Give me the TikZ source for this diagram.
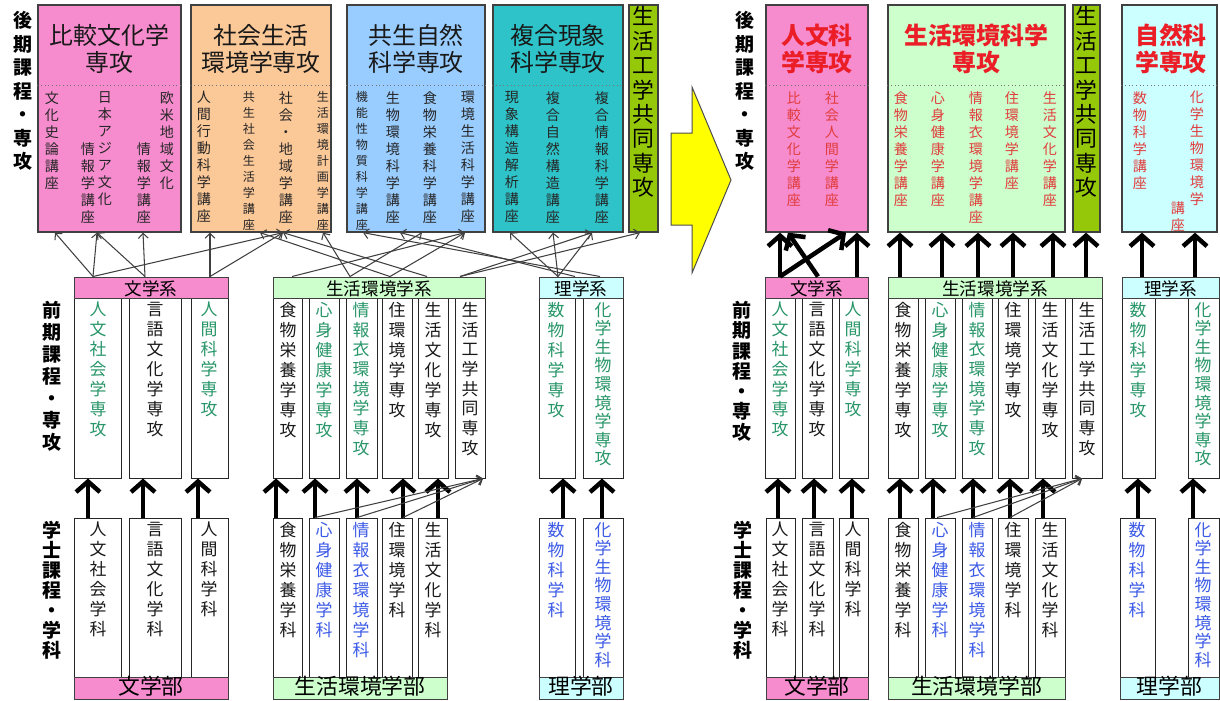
\documentclass[tikz,border=0pt]{standalone}
\usepackage{fontspec}
\setmainfont{Noto Sans CJK JP}
\usetikzlibrary{arrows.meta,fit}
\ExplSyntaxOn
\NewDocumentCommand\vt{O{12pt}m}{\vbox{\baselineskip=#1\relax\lineskiplimit=-100pt\relax\tl_map_inline:nn{#2}{\hbox{##1}}}}
\ExplSyntaxOff
\definecolor{pinkc}{RGB}{246,140,206}
\definecolor{orangec}{RGB}{251,200,152}
\definecolor{bluec}{RGB}{153,204,255}
\definecolor{tealc}{RGB}{45,195,200}
\definecolor{limec}{RGB}{150,200,10}
\definecolor{lgreenc}{RGB}{204,255,204}
\definecolor{lcyanc}{RGB}{204,255,255}
\definecolor{greent}{RGB}{40,150,105}
\definecolor{bluet}{RGB}{60,90,230}
\definecolor{redt}{RGB}{235,30,40}
\definecolor{lectred}{RGB}{225,60,60}
\definecolor{yelc}{RGB}{255,255,0}
\newcommand\cbox[5]{\node[colbox, fit={(#2,#3) (#4,#5)}] (#1) {};}
\newcommand\vtx[6]{\node[#2, anchor=north] (#1) at (#3,#4) {\vt[#5]{#6}};}
\tikzset{
  topbox/.style={draw=black!75, line width=0.9pt, inner sep=0pt},
  colbox/.style={draw=black!85, line width=0.7pt, fill=white, inner sep=0pt},
  hdrbox/.style={draw=black!75, line width=0.7pt, inner sep=0pt},
  hdrt/.style={inner sep=0pt, text height=0.8em, text depth=0.1em, yshift=-2pt, font=\fontsize{12.5}{14}\selectfont},
  ftrt/.style={inner sep=0pt, text height=0.8em, text depth=0.1em, yshift=-1.2pt, font=\fontsize{15.5}{17}\selectfont},
  dotsep/.style={draw=black!55, line width=0.6pt, dotted},
  ttl/.style={align=center, inner sep=0pt, font=\fontsize{17}{19.2}\selectfont, text=black!90},
  ttlr/.style={align=center, inner sep=0pt, font=\fontsize{17}{19.2}\selectfont\bfseries, text=redt},
  lect/.style={inner sep=0pt, font=\fontsize{10}{12}\selectfont, text=black!85},
  lectsm/.style={inner sep=0pt, font=\fontsize{8.6}{10}\selectfont, text=black!85},
  lectr/.style={inner sep=0pt, font=\fontsize{10}{12}\selectfont, text=lectred},
  bigv/.style={inner sep=0pt, font=\fontsize{15.5}{17}\selectfont, text=black},
  colt/.style={inner sep=0pt, font=\fontsize{12}{14}\selectfont, text=black!90},
  side/.style={inner sep=0pt, font=\fontsize{13.5}{16}\selectfont\bfseries, text=black},
  thinar/.style={draw=black!75, line width=0.75pt, -{Straight Barb[length=3.5pt,width=7pt]}},
  thickar/.style={draw=black, line width=3.2pt, -{Straight Barb[length=7.5pt,width=17pt]}},
}
\begin{document}
\begin{tikzpicture}[x=0.025cm,y=-0.025cm]
\useasboundingbox (0,0) rectangle (1220,700);
% ===== top boxes left =====
\node[topbox, fill=pinkc, fit={(38,5) (181,232)}] (T1) {};
\node[topbox, fill=orangec, fit={(191,5) (331,232)}] (T2) {};
\node[topbox, fill=bluec, fit={(347,5) (485,232)}] (T3) {};
\node[topbox, fill=tealc, fit={(493,5) (623,232)}] (T4) {};
\node[topbox, fill=limec, fit={(629,5) (658,232)}] (T5) {};
% ===== top boxes right =====
\node[topbox, fill=pinkc, fit={(766,5) (868,232)}] (R1) {};
\node[topbox, fill=lgreenc, fit={(888,5) (1065,232)}] (R2) {};
\node[topbox, fill=limec, fit={(1073,5) (1100,232)}] (R3) {};
\node[topbox, fill=lcyanc, fit={(1122,5) (1217,232)}] (R4) {};
\foreach \n in {T1,T2,T3,T4,R1,R2,R4} \draw[dotsep] (\n.west |- 0,85) -- (\n.east |- 0,85);
% titles
\node[ttl] (T1t) at (109.5,48.5) {比較文化学\\専攻};
\node[ttl] (T2t) at (261,48.5) {社会生活\\環境学専攻};
\node[ttl] (T3t) at (416,48.5) {共生自然\\科学専攻};
\node[ttl] (T4t) at (558,48.5) {複合現象\\科学専攻};
\vtx{T5t}{bigv}{643.5}{6}{17.4pt}{生活工学共同専攻}
\node[ttlr] (R1t) at (817,48.5) {人文科\\学専攻};
\node[ttlr] (R2t) at (976.5,48.5) {生活環境科学\\専攻};
\node[ttlr] (R4t) at (1171,48.5) {自然科\\学専攻};
\vtx{R3t}{bigv}{1086.5}{6}{17.4pt}{生活工学共同専攻}
% lectures left
\vtx{l11}{lect}{52}{91}{12.1pt}{文化史論講座}
\vtx{l12}{lect}{88}{142}{12.1pt}{情報学講座}
\vtx{l13}{lect}{105}{91}{12.1pt}{日本アジア文化}
\vtx{l14}{lect}{144}{142}{12.1pt}{情報学講座}
\vtx{l15}{lect}{167}{91}{12.1pt}{欧米地域文化}
\vtx{l21}{lect}{204}{91}{12.1pt}{人間行動科学講座}
\vtx{l22}{lectsm}{249}{91}{11.4pt}{共生社会生活学講座}
\vtx{l23}{lect}{286}{91}{12.1pt}{社会・地域学講座}
\vtx{l24}{lectsm}{323}{91}{11.4pt}{生活環境計画学講座}
\vtx{l31}{lectsm}{362}{91}{11.4pt}{機能性物質科学講座}
\vtx{l32}{lect}{393}{91}{12.1pt}{生物環境科学講座}
\vtx{l33}{lect}{430}{91}{12.1pt}{食物栄養科学講座}
\vtx{l34}{lect}{468}{91}{12.1pt}{環境生活科学講座}
\vtx{l41}{lect}{512}{91}{12.1pt}{現象構造解析講座}
\vtx{l42}{lect}{553}{91}{12.1pt}{複合自然構造講座}
\vtx{l43}{lect}{602}{91}{12.1pt}{複合情報科学講座}
% lectures right
\vtx{r11}{lectr}{794}{91}{12.1pt}{比較文化学講座}
\vtx{r12}{lectr}{832}{91}{12.1pt}{社会人間学講座}
\vtx{r21}{lectr}{901}{91}{12.1pt}{食物栄養学講座}
\vtx{r22}{lectr}{938}{91}{12.1pt}{心身健康学講座}
\vtx{r23}{lectr}{976}{91}{12.1pt}{情報衣環境学講座}
\vtx{r24}{lectr}{1012}{91}{12.1pt}{住環境学講座}
\vtx{r25}{lectr}{1050}{91}{12.1pt}{生活文化学講座}
\vtx{r41}{lectr}{1140}{91}{12.1pt}{数物科学講座}
\vtx{r42}{lectr}{1197}{91}{12.1pt}{化学生物環境学}
\vtx{r43}{lectr}{1178}{201}{12.1pt}{講座}
% side labels
\vtx{s1}{side}{23}{11}{16.7pt}{後期課程・専攻}
\vtx{s2}{side}{52}{301}{15.6pt}{前期課程・専攻}
\vtx{s3}{side}{52}{521}{14.2pt}{学士課程・学科}
\vtx{s4}{side}{745}{11}{16.7pt}{後期課程・専攻}
\vtx{s5}{side}{742}{301}{14.4pt}{前期課程・専攻}
\vtx{s6}{side}{743}{521}{14.2pt}{学士課程・学科}
% ===== big yellow arrow =====
\draw[fill=yelc, draw=black!70, line width=0.7pt] (671,133) -- (692,133) -- (692,87) -- (731,180) -- (692,273) -- (692,225) -- (671,225) -- cycle;
% ===== middle columns left =====
\cbox{LMa1}{74}{298}{121}{478}
\cbox{LMa2}{129}{298}{181}{478}
\cbox{LMa3}{191}{298}{228}{478}
\cbox{LMb1}{273}{298}{302}{478}
\cbox{LMb2}{309}{298}{339}{478}
\cbox{LMb3}{346}{298}{377}{478}
\cbox{LMb4}{382}{298}{412}{478}
\cbox{LMb5}{418}{298}{448}{478}
\cbox{LMb6}{455}{298}{485}{478}
\cbox{LMc1}{539}{298}{575}{478}
\cbox{LMc2}{583}{298}{623}{478}
\node[hdrbox, fill=pinkc, fit={(74,277) (228,298)}] (LHa) {};
\node[hdrbox, fill=lgreenc, fit={(273,277) (485,298)}] (LHb) {};
\node[hdrbox, fill=lcyanc, fit={(539,277) (623,298)}] (LHc) {};
\node[hdrt] (LHat) at (LHa.center) {文学系};
\node[hdrt] (LHbt) at (LHb.center) {生活環境学系};
\node[hdrt] (LHct) at (LHc.center) {理学系};
% ===== bottom columns left =====
\cbox{LBa1}{74}{518}{121}{677}
\cbox{LBa2}{129}{518}{181}{677}
\cbox{LBa3}{191}{518}{228}{677}
\cbox{LBb1}{273}{518}{302}{677}
\cbox{LBb2}{309}{518}{339}{677}
\cbox{LBb3}{346}{518}{377}{677}
\cbox{LBb4}{382}{518}{412}{677}
\cbox{LBb5}{418}{518}{447}{677}
\cbox{LBc1}{539}{518}{575}{677}
\cbox{LBc2}{583}{518}{623}{677}
\node[hdrbox, fill=pinkc, fit={(74,677) (228,699)}] (LFa) {};
\node[hdrbox, fill=lgreenc, fit={(273,677) (447,699)}] (LFb) {};
\node[hdrbox, fill=lcyanc, fit={(539,677) (623,699)}] (LFc) {};
\node[ftrt] (LFat) at (LFa.center) {文学部};
\node[ftrt] (LFbt) at (LFb.center) {生活環境学部};
\node[ftrt] (LFct) at (LFc.center) {理学部};
% ===== middle columns right =====
\cbox{RMa1}{765}{298}{795}{478}
\cbox{RMa2}{802}{298}{832}{478}
\cbox{RMa3}{839}{298}{868}{478}
\cbox{RMb1}{888}{298}{918}{478}
\cbox{RMb2}{925}{298}{955}{478}
\cbox{RMb3}{962}{298}{992}{478}
\cbox{RMb4}{998}{298}{1028}{478}
\cbox{RMb5}{1035}{298}{1065}{478}
\cbox{RMb6}{1072}{298}{1102}{478}
\cbox{RMc1}{1122}{298}{1155}{478}
\cbox{RMc2}{1188}{298}{1219}{478}
\node[hdrbox, fill=pinkc, fit={(765,277) (868,298)}] (RHa) {};
\node[hdrbox, fill=lgreenc, fit={(888,277) (1102,298)}] (RHb) {};
\node[hdrbox, fill=lcyanc, fit={(1122,277) (1219,298)}] (RHc) {};
\node[hdrt] (RHat) at (RHa.center) {文学系};
\node[hdrt] (RHbt) at (RHb.center) {生活環境学系};
\node[hdrt] (RHct) at (RHc.center) {理学系};
% ===== bottom columns right =====
\cbox{RBa1}{766}{518}{795}{677}
\cbox{RBa2}{802}{518}{833}{677}
\cbox{RBa3}{839}{518}{868}{677}
\cbox{RBb1}{888}{518}{918}{677}
\cbox{RBb2}{925}{518}{955}{677}
\cbox{RBb3}{962}{518}{992}{677}
\cbox{RBb4}{998}{518}{1028}{677}
\cbox{RBb5}{1035}{518}{1065}{677}
\cbox{RBc1}{1120}{518}{1155}{677}
\cbox{RBc2}{1188}{518}{1219}{677}
\node[hdrbox, fill=pinkc, fit={(766,677) (868,699)}] (RFa) {};
\node[hdrbox, fill=lgreenc, fit={(888,677) (1065,699)}] (RFb) {};
\node[hdrbox, fill=lcyanc, fit={(1120,677) (1219,699)}] (RFc) {};
\node[ftrt] (RFat) at (RFa.center) {文学部};
\node[ftrt] (RFbt) at (RFb.center) {生活環境学部};
\node[ftrt] (RFct) at (RFc.center) {理学部};
% ===== column texts left middle =====
\vtx{m1}{colt,text=greent}{98}{302}{14.2pt}{人文社会学専攻}
\vtx{m2}{colt}{155}{302}{14.2pt}{言語文化学専攻}
\vtx{m3}{colt,text=greent}{209}{302}{14.2pt}{人間科学専攻}
\vtx{m4}{colt}{288}{302}{14.2pt}{食物栄養学専攻}
\vtx{m5}{colt,text=greent}{324}{302}{14.2pt}{心身健康学専攻}
\vtx{m6}{colt,text=greent}{361}{302}{14.0pt}{情報衣環境学専攻}
\vtx{m7}{colt}{397}{302}{14.2pt}{住環境学専攻}
\vtx{m8}{colt}{433}{302}{14.2pt}{生活文化学専攻}
\vtx{m9}{colt}{470}{302}{14.0pt}{生活工学共同専攻}
\vtx{m10}{colt,text=greent}{556}{302}{14.2pt}{数物科学専攻}
\vtx{m11}{colt,text=greent}{603}{302}{13.2pt}{化学生物環境学専攻}
% left bottom
\vtx{b1}{colt}{98}{522}{14.2pt}{人文社会学科}
\vtx{b2}{colt}{155}{522}{14.2pt}{言語文化学科}
\vtx{b3}{colt}{209}{522}{14.2pt}{人間科学科}
\vtx{b4}{colt}{288}{522}{14.2pt}{食物栄養学科}
\vtx{b5}{colt,text=bluet}{324}{522}{14.2pt}{心身健康学科}
\vtx{b6}{colt,text=bluet}{361}{522}{14.2pt}{情報衣環境学科}
\vtx{b7}{colt}{397}{522}{14.2pt}{住環境学科}
\vtx{b8}{colt}{433}{522}{14.2pt}{生活文化学科}
\vtx{b9}{colt,text=bluet}{556}{522}{14.2pt}{数物科学科}
\vtx{b10}{colt,text=bluet}{603}{522}{13.2pt}{化学生物環境学科}
% right middle
\vtx{rm1}{colt,text=greent}{780}{302}{14.2pt}{人文社会学専攻}
\vtx{rm2}{colt}{817}{302}{14.2pt}{言語文化学専攻}
\vtx{rm3}{colt,text=greent}{853}{302}{14.2pt}{人間科学専攻}
\vtx{rm4}{colt}{903}{302}{14.2pt}{食物栄養学専攻}
\vtx{rm5}{colt,text=greent}{940}{302}{14.2pt}{心身健康学専攻}
\vtx{rm6}{colt,text=greent}{977}{302}{14.0pt}{情報衣環境学専攻}
\vtx{rm7}{colt}{1013}{302}{14.2pt}{住環境学専攻}
\vtx{rm8}{colt}{1050}{302}{14.2pt}{生活文化学専攻}
\vtx{rm9}{colt}{1087}{302}{14.0pt}{生活工学共同専攻}
\vtx{rm10}{colt,text=greent}{1138}{302}{14.2pt}{数物科学専攻}
\vtx{rm11}{colt,text=greent}{1203}{302}{13.2pt}{化学生物環境学専攻}
% right bottom
\vtx{rb1}{colt}{780}{522}{14.2pt}{人文社会学科}
\vtx{rb2}{colt}{817}{522}{14.2pt}{言語文化学科}
\vtx{rb3}{colt}{853}{522}{14.2pt}{人間科学科}
\vtx{rb4}{colt}{903}{522}{14.2pt}{食物栄養学科}
\vtx{rb5}{colt,text=bluet}{940}{522}{14.2pt}{心身健康学科}
\vtx{rb6}{colt,text=bluet}{977}{522}{14.2pt}{情報衣環境学科}
\vtx{rb7}{colt}{1013}{522}{14.2pt}{住環境学科}
\vtx{rb8}{colt}{1050}{522}{14.2pt}{生活文化学科}
\vtx{rb9}{colt,text=bluet}{1137}{522}{14.2pt}{数物科学科}
\vtx{rb10}{colt,text=bluet}{1203}{522}{13.2pt}{化学生物環境学科}
% ===== thick arrows bottom -> middle =====
\draw[thickar] (88,0 |- LBa1.north) -- (88,0 |- LMa1.south);
\draw[thickar] (143,0 |- LBa2.north) -- (143,0 |- LMa2.south);
\draw[thickar] (198,0 |- LBa3.north) -- (198,0 |- LMa3.south);
\draw[thickar] (276,0 |- LBb1.north) -- (276,0 |- LMb1.south);
\draw[thickar] (315,0 |- LBb2.north) -- (315,0 |- LMb2.south);
\draw[thickar] (357,0 |- LBb3.north) -- (357,0 |- LMb3.south);
\draw[thickar] (403,0 |- LBb4.north) -- (403,0 |- LMb4.south);
\draw[thickar] (438,0 |- LBb5.north) -- (438,0 |- LMb5.south);
\draw[thickar] (563,0 |- LBc1.north) -- (563,0 |- LMc1.south);
\draw[thickar] (602,0 |- LBc2.north) -- (602,0 |- LMc2.south);
\draw[thinar] (315,0 |- LBb2.north) -- (483,0 |- LMb6.south);
\draw[thinar] (357,0 |- LBb3.north) -- (483,0 |- LMb6.south);
\draw[thinar] (403,0 |- LBb4.north) -- (483,0 |- LMb6.south);
\draw[thickar] (778,0 |- RBa1.north) -- (778,0 |- RMa1.south);
\draw[thickar] (814,0 |- RBa2.north) -- (814,0 |- RMa2.south);
\draw[thickar] (852,0 |- RBa3.north) -- (852,0 |- RMa3.south);
\draw[thickar] (900,0 |- RBb1.north) -- (900,0 |- RMb1.south);
\draw[thickar] (933,0 |- RBb2.north) -- (933,0 |- RMb2.south);
\draw[thickar] (973,0 |- RBb3.north) -- (973,0 |- RMb3.south);
\draw[thickar] (1010,0 |- RBb4.north) -- (1010,0 |- RMb4.south);
\draw[thickar] (1043,0 |- RBb5.north) -- (1043,0 |- RMb5.south);
\draw[thickar] (1138,0 |- RBc1.north) -- (1138,0 |- RMc1.south);
\draw[thickar] (1193,0 |- RBc2.north) -- (1193,0 |- RMc2.south);
\draw[thinar] (937,0 |- RBb2.north) -- (1082,0 |- RMb6.south);
\draw[thinar] (973,0 |- RBb3.north) -- (1082,0 |- RMb6.south);
\draw[thinar] (1010,0 |- RBb4.north) -- (1082,0 |- RMb6.south);
% ===== thick arrows middle -> top (right) =====
\draw[thickar] (780,0 |- RHa.north) -- (780,0 |- R1.south);
\draw[thickar] (857,0 |- RHa.north) -- (857,0 |- R1.south);
\draw[thickar] (780,0 |- RHa.north) -- (846,0 |- R1.south);
\draw[thickar] (818,0 |- RHa.north) -- (788,0 |- R1.south);
\draw[thickar] (900,0 |- RHb.north) -- (900,0 |- R2.south);
\draw[thickar] (942,0 |- RHb.north) -- (942,0 |- R2.south);
\draw[thickar] (978,0 |- RHb.north) -- (978,0 |- R2.south);
\draw[thickar] (1013,0 |- RHb.north) -- (1013,0 |- R2.south);
\draw[thickar] (1053,0 |- RHb.north) -- (1053,0 |- R2.south);
\draw[thickar] (1086,0 |- RHb.north) -- (1086,0 |- R3.south);
\draw[thickar] (1142,0 |- RHc.north) -- (1142,0 |- R4.south);
\draw[thickar] (1195,0 |- RHc.north) -- (1195,0 |- R4.south);
% ===== thin arrows middle -> top (left) =====
\draw[thinar] (93,0 |- LHa.north) -- (55,0 |- T1.south);
\draw[thinar] (93,0 |- LHa.north) -- (97,0 |- T1.south);
\draw[thinar] (145,0 |- LHa.north) -- (97,0 |- T1.south);
\draw[thinar] (145,0 |- LHa.north) -- (143,0 |- T1.south);
\draw[thinar] (210,0 |- LHa.north) -- (210,0 |- T2.south);
\draw[thinar] (93,0 |- LHa.north) -- (283,0 |- T2.south);
\draw[thinar] (210,0 |- LHa.north) -- (283,0 |- T2.south);
\draw[thinar] (292,0 |- LHb.north) -- (465,0 |- T3.south);
\draw[thinar] (350,0 |- LHb.north) -- (323,0 |- T2.south);
\draw[thinar] (350,0 |- LHb.north) -- (422,0 |- T3.south);
\draw[thinar] (390,0 |- LHb.north) -- (260,0 |- T2.south);
\draw[thinar] (390,0 |- LHb.north) -- (465,0 |- T3.south);
\draw[thinar] (427,0 |- LHb.north) -- (283,0 |- T2.south);
\draw[thinar] (460,0 |- LHb.north) -- (592,0 |- T4.south);
\draw[thinar] (460,0 |- LHb.north) -- (640,0 |- T5.south);
\draw[thinar] (558,0 |- LHc.north) -- (510,0 |- T4.south);
\draw[thinar] (558,0 |- LHc.north) -- (553,0 |- T4.south);
\draw[thinar] (558,0 |- LHc.north) -- (592,0 |- T4.south);
\draw[thinar] (600,0 |- LHc.north) -- (363,0 |- T3.south);
\draw[thinar] (575,0 |- LHc.north) -- (400,0 |- T3.south);
\end{tikzpicture}
\end{document}
